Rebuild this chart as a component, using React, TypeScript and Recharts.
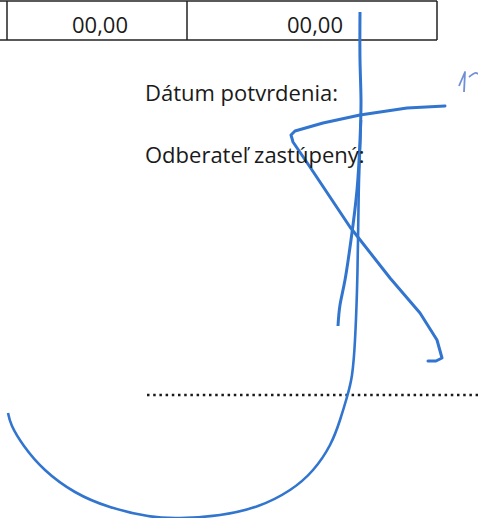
import { ComposedChart, Line, Scatter, XAxis, YAxis } from 'recharts';

// table cell values and form labels
const cellValues = [
  { x: 100, y: 33, text: '00,00', anchor: 'middle' },
  { x: 343, y: 33, text: '00,00', anchor: 'end' },
];
const formLabels = [
  { x: 145, y: 101, text: 'Dátum potvrdenia:', anchor: 'start' },
  { x: 145, y: 163, text: 'Odberateľ zastúpený:', anchor: 'start' },
];

// table grid
const tableTop = [{ x: 0, y: 1 }, { x: 437, y: 1 }];
const tableBottom = [{ x: 0, y: 40 }, { x: 437, y: 40 }];
const tableCols = [7, 187, 437];

// dotted signature line
const dottedLine = [{ x: 147, y: 395 }, { x: 478, y: 395 }];

// signature strokes
const strokeA = [
  { x: 360, y: 12 }, { x: 360, y: 60 }, { x: 361, y: 100 }, { x: 360, y: 140 },
  { x: 357, y: 190 }, { x: 351, y: 240 }, { x: 345, y: 280 }, { x: 340, y: 305 }, { x: 338, y: 326 },
];
const strokeB = [
  { x: 361, y: 120 }, { x: 359, y: 180 }, { x: 358, y: 240 }, { x: 357, y: 290 },
  { x: 355, y: 340 }, { x: 352, y: 375 }, { x: 347, y: 397 }, { x: 340, y: 420 },
  { x: 330, y: 445 }, { x: 313, y: 470 }, { x: 290, y: 490 }, { x: 258, y: 506 },
  { x: 220, y: 515 }, { x: 180, y: 518 }, { x: 148, y: 516 }, { x: 110, y: 507 },
  { x: 75, y: 492 }, { x: 45, y: 470 }, { x: 24, y: 446 }, { x: 12, y: 426 }, { x: 8, y: 413 },
];
const strokeC = [
  { x: 445, y: 106 }, { x: 407, y: 108 }, { x: 360, y: 115 }, { x: 323, y: 123 },
  { x: 295, y: 131 }, { x: 291, y: 135 }, { x: 293, y: 142 }, { x: 310, y: 167 },
  { x: 350, y: 227 }, { x: 390, y: 278 }, { x: 420, y: 313 }, { x: 437, y: 340 },
  { x: 442, y: 358 }, { x: 436, y: 361 }, { x: 428, y: 361 },
];
// handwritten date, cut at the edge
const digitOne = [{ x: 459, y: 86 }, { x: 465, y: 72 }, { x: 464, y: 92 }];
const digitTwo = [{ x: 469, y: 77 }, { x: 475, y: 73 }, { x: 478, y: 74 }];

const ink = '#3275cf';
const lightInk = '#6f8fd8';
const textColor = '#1a1a1a';

const renderText = (props: any) => {
  const { cx, cy, payload } = props;
  return (
    <text x={cx} y={cy} textAnchor={payload.anchor} fill={textColor}
      fontFamily="Open Sans" fontSize={22}>
      {payload.text}
    </text>
  );
};

const common = { dot: false, activeDot: false, isAnimationActive: false, dataKey: 'y' } as const;

export default function App() {
  return (
    <div style={{ position: 'fixed', left: 0, top: 0, background: '#ffffff' }}>
      <ComposedChart width={478} height={518} margin={{ top: 0, right: 0, bottom: 0, left: 0 }}>
        <XAxis type="number" dataKey="x" domain={[0, 478]} hide allowDataOverflow />
        <YAxis type="number" dataKey="y" domain={[0, 518]} reversed hide allowDataOverflow />

        <Line {...common} data={tableTop} stroke="#222" strokeWidth={1.5} />
        <Line {...common} data={tableBottom} stroke="#222" strokeWidth={1.5} />
        {tableCols.map((c) => (
          <Line key={c} {...common} data={[{ x: c, y: 1 }, { x: c, y: 40 }]} stroke="#222" strokeWidth={1.5} />
        ))}
        <Line {...common} data={dottedLine} stroke="#1a1a1a" strokeWidth={2.5} strokeDasharray="2.5 3.7" />

        <Scatter data={cellValues} shape={renderText} isAnimationActive={false} />
        <Scatter data={formLabels} shape={renderText} isAnimationActive={false} />

        <Line {...common} data={strokeA} type="natural" stroke={ink} strokeWidth={3} />
        <Line {...common} data={strokeB} type="natural" stroke={ink} strokeWidth={2.6} />
        <Line {...common} data={strokeC} type="linear" stroke={ink} strokeWidth={3}
          strokeLinejoin="round" strokeLinecap="round" />
        <Line {...common} data={digitOne} type="linear" stroke={lightInk} strokeWidth={1.8}
          strokeLinejoin="round" />
        <Line {...common} data={digitTwo} type="natural" stroke={lightInk} strokeWidth={1.8} />
      </ComposedChart>
    </div>
  );
}
